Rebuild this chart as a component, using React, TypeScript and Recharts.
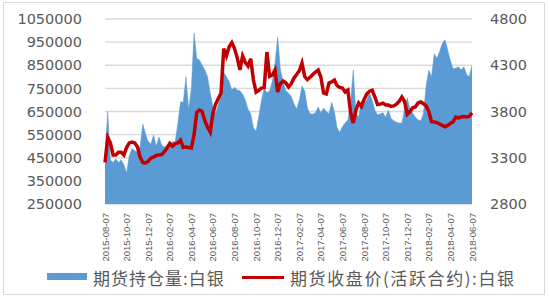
import { ComposedChart, Area, Line, XAxis, YAxis, CartesianGrid } from 'recharts'

const MONTHS = [
  '2015-08', '2015-09', '2015-10', '2015-11', '2015-12',
  '2016-01', '2016-02', '2016-03', '2016-04', '2016-05', '2016-06',
  '2016-07', '2016-08', '2016-09', '2016-10', '2016-11', '2016-12',
  '2017-01', '2017-02', '2017-03', '2017-04', '2017-05', '2017-06',
  '2017-07', '2017-08', '2017-09', '2017-10', '2017-11', '2017-12',
  '2018-01', '2018-02', '2018-03', '2018-04', '2018-05', '2018-06',
]
const DAYS = ['07', '14', '21', '28']

// weekly dates, last one is 2018-06-07
const DATES = MONTHS.flatMap((m, k) => (k === MONTHS.length - 1 ? ['07'] : DAYS).map((d) => `${m}-${d}`))

const X_LABELS = [
  '2015-08-07', '2015-10-07', '2015-12-07', '2016-02-07', '2016-04-07', '2016-06-07',
  '2016-08-07', '2016-10-07', '2016-12-07', '2017-02-07', '2017-04-07', '2017-06-07',
  '2017-08-07', '2017-10-07', '2017-12-07', '2018-02-07', '2018-04-07', '2018-06-07',
]

// 期货持仓量:白银
const OPEN_INTEREST = [
  450000, 650000, 440000, 430000, 445000, 430000, 440000, 420000, 384000, 460000,
  490000, 480000, 475000, 500000, 596000, 555000, 520000, 510000, 548000, 500000,
  540000, 505000, 495000, 505000, 500000, 520000, 518000, 600000, 692000, 690000,
  800000, 660000, 750000, 990000, 880000, 873000, 850000, 830000, 800000, 730000,
  670000, 645000, 680000, 720000, 820000, 800000, 780000, 743000, 755000, 743000,
  740000, 725000, 700000, 660000, 640000, 580000, 565000, 630000, 700000, 750000,
  730000, 740000, 780000, 860000, 972000, 830000, 780000, 740000, 730000, 715000,
  685000, 660000, 700000, 760000, 740000, 665000, 640000, 638000, 645000, 670000,
  645000, 665000, 650000, 640000, 690000, 650000, 580000, 560000, 585000, 600000,
  613000, 690000, 830000, 640000, 626000, 695000, 686000, 700000, 730000, 700000,
  656000, 635000, 640000, 645000, 625000, 656000, 620000, 610000, 603000, 600000,
  600000, 660000, 710000, 660000, 643000, 626000, 613000, 610000, 640000, 760000,
  830000, 800000, 900000, 880000, 910000, 945000, 960000, 916000, 870000, 835000,
  838000, 843000, 830000, 843000, 810000, 800000, 850000,
]

// 期货收盘价(活跃合约):白银
const CLOSE_PRICE = [
  3250, 3520, 3460, 3330, 3330, 3360, 3360, 3330, 3410, 3460,
  3470, 3460, 3420, 3308, 3250, 3243, 3260, 3295, 3308, 3325,
  3330, 3335, 3365, 3405, 3455, 3425, 3450, 3460, 3490, 3410,
  3416, 3410, 3405, 3550, 3790, 3816, 3800, 3700, 3630, 3578,
  3784, 3880, 3940, 4000, 4480, 4400, 4500, 4545, 4480, 4380,
  4250, 4400, 4330, 4290, 4370, 4140, 4010, 4030, 4054, 4060,
  4443, 4180, 4195, 4249, 4010, 4100, 4130, 4110, 4065, 4100,
  4160, 4200, 4240, 4324, 4180, 4145, 4170, 4200, 4227, 4249,
  4170, 4000, 3990, 4108, 4119, 4140, 4080, 4060, 4054, 4011,
  4032, 3790, 3676, 3816, 3892, 3855, 3930, 3990, 4020, 4030,
  3957, 3875, 3880, 3890, 3870, 3870, 3855, 3860, 3880, 3910,
  3957, 3910, 3770, 3800, 3840, 3849, 3892, 3903, 3885, 3860,
  3800, 3690, 3686, 3680, 3665, 3650, 3635, 3650, 3670, 3690,
  3740, 3730, 3740, 3745, 3740, 3750, 3784,
]

const LEFT_TICKS = [250000, 350000, 450000, 550000, 650000, 750000, 850000, 950000, 1050000]
const RIGHT_TICKS = [2800, 3300, 3800, 4300, 4800]

const data = DATES.map((date, i) => ({
  date,
  oi: OPEN_INTEREST[i],
  price: CLOSE_PRICE[i],
}))

const BLUE = '#5B9BD5'
const RED = '#C00000'
const TEXT = '#595959'
const AXIS_FONT = { fontSize: 14.5, fill: TEXT, fontFamily: 'DejaVu Sans' }

function DateTick({ x, y, payload }: { x?: number; y?: number; payload?: { value: string } }) {
  return (
    <text
      transform={`translate(${(x ?? 0) + 3.5}, ${(y ?? 0) + 9}) rotate(-90)`}
      textAnchor="end"
      fontSize={9.5}
      fontFamily="Liberation Sans"
      fill={TEXT}
    >
      {payload?.value}
    </text>
  )
}

export default function App() {
  return (
    <div style={{ position: 'absolute', left: 0, top: 0, width: 550, height: 300, background: '#fff' }}>
      <div
        style={{
          position: 'absolute', left: 3, top: 2, width: 540, height: 291,
          border: '1px solid #d9d9d9',
        }}
      />
      <ComposedChart
        width={550}
        height={300}
        data={data}
        margin={{ top: 19, right: 0, left: 0, bottom: 0 }}
        style={{ position: 'absolute', left: 0, top: 0 }}
      >
        <CartesianGrid yAxisId="left" vertical={false} stroke="#d9d9d9" strokeWidth={1.3} />
        <XAxis
          dataKey="date"
          ticks={X_LABELS}
          interval={0}
          height={96}
          tickSize={0}
          tickMargin={0}
          axisLine={false}
          tickLine={false}
          tick={<DateTick />}
        />
        <YAxis
          yAxisId="left"
          width={105}
          domain={[250000, 1050000]}
          ticks={LEFT_TICKS}
          axisLine={false}
          tickLine={false}
          tickSize={0}
          tickMargin={23}
          tick={AXIS_FONT}
        />
        <YAxis
          yAxisId="right"
          orientation="right"
          width={78}
          domain={[2800, 4800]}
          ticks={RIGHT_TICKS}
          axisLine={false}
          tickLine={false}
          tickSize={0}
          tickMargin={18}
          tick={AXIS_FONT}
        />
        <Area
          yAxisId="left"
          type="linear"
          dataKey="oi"
          fill={BLUE}
          fillOpacity={1}
          stroke={BLUE}
          strokeWidth={0.5}
          isAnimationActive={false}
        />
        <Line
          yAxisId="right"
          type="linear"
          dataKey="price"
          stroke={RED}
          strokeWidth={3.5}
          dot={false}
          isAnimationActive={false}
        />
      </ComposedChart>
      <div
        style={{
          position: 'absolute', left: 0, top: 266, width: 550, height: 24,
          fontFamily: '"Noto Sans CJK SC"', fontSize: 17, color: TEXT,
        }}
      >
        <div style={{ position: 'absolute', left: 47, top: 7, width: 40, height: 7, background: BLUE }} />
        <span style={{ position: 'absolute', left: 93, top: 0, lineHeight: '24px', whiteSpace: 'nowrap', letterSpacing: 1 }}>
          期货持仓量:白银
        </span>
        <div style={{ position: 'absolute', left: 242, top: 10, width: 42, height: 3, background: RED }} />
        <span style={{ position: 'absolute', left: 290, top: 0, lineHeight: '24px', whiteSpace: 'nowrap', letterSpacing: 1.6 }}>
          期货收盘价(活跃合约):白银
        </span>
      </div>
    </div>
  )
}
